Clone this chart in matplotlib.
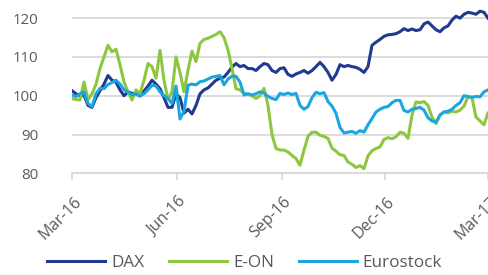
import matplotlib
matplotlib.use("Agg")
import matplotlib.pyplot as plt
import pandas as pd

dax = [101.3, 100.5, 99.9, 100.2, 97.5, 97.0, 99.5, 101.3, 103.0, 105.2,
       104.0, 103.5, 101.5, 100.0, 101.0, 100.6, 100.5, 99.9, 101.2, 102.5,
       104.0, 103.0, 101.8, 99.5, 97.0, 97.0, 100.5, 99.5, 95.5, 96.5,
       95.3, 97.5, 100.5, 101.5, 102.0, 103.0, 104.0, 104.5, 104.8, 106.0,
       107.4, 108.3, 107.5, 107.8, 107.0, 107.0, 106.5, 107.5, 108.3, 108.0,
       106.5, 106.0, 107.0, 107.2, 105.5, 105.0, 105.6, 106.0, 106.5, 105.8,
       106.5, 107.5, 108.6, 107.5, 106.0, 104.0, 105.5, 108.0, 107.5, 107.8,
       107.5, 107.3, 106.8, 106.0, 107.5, 113.0, 113.8, 114.5, 115.3, 115.7,
       115.8, 116.0, 116.5, 117.3, 116.8, 117.2, 116.8, 117.0, 118.5, 119.0,
       118.0, 117.0, 116.5, 117.5, 118.0, 119.5, 120.5, 120.0, 121.0, 121.5,
       121.3, 121.0, 121.8, 121.5, 120.0]

eon = [99.3, 99.0, 98.9, 103.5, 99.0, 100.5, 103.0, 107.0, 110.0, 113.0,
       111.3, 112.0, 108.0, 103.5, 101.0, 98.9, 101.5, 100.5, 104.0, 108.3,
       107.5, 104.5, 111.7, 104.0, 99.0, 101.0, 110.0, 106.0, 101.0, 106.5,
       111.5, 108.8, 113.5, 114.5, 114.8, 115.3, 115.8, 116.5, 115.0, 111.8,
       107.0, 101.8, 101.5, 100.6, 100.4, 100.0, 99.3, 100.0, 101.9, 97.5,
       90.0, 86.4, 86.0, 86.0, 85.5, 84.6, 83.8, 82.1, 86.0, 89.5,
       90.6, 90.6, 89.8, 89.5, 89.0, 86.5, 85.7, 84.8, 84.6, 82.9,
       82.3, 81.5, 82.0, 81.2, 84.5, 85.8, 86.4, 86.8, 88.7, 89.2,
       88.9, 89.4, 90.6, 90.3, 89.0, 95.0, 98.4, 98.2, 98.5, 97.5,
       94.5, 92.8, 95.0, 95.8, 95.6, 96.0, 95.8, 96.3, 97.3, 99.7,
       99.5, 94.5, 93.5, 92.5, 95.5]

eurostock = [100.2, 99.8, 100.5, 101.0, 98.0, 97.2, 100.5, 101.9, 101.8, 102.9,
             103.4, 104.0, 103.0, 101.5, 101.0, 100.2, 100.5, 100.0, 100.5, 101.5,
             102.7, 102.5, 101.0, 100.0, 99.3, 98.0, 102.5, 94.0, 96.0, 102.7,
             103.0, 102.8, 103.6, 103.8, 104.3, 104.8, 105.0, 105.2, 102.8, 104.3,
             105.0, 105.0, 103.5, 100.2, 100.5, 100.2, 100.5, 101.0, 100.7, 99.8,
             99.3, 99.0, 100.6, 100.3, 100.7, 100.3, 100.6, 97.5, 96.5, 97.2,
             99.5, 100.9, 100.5, 100.8, 98.5, 97.3, 95.5, 91.8, 90.4, 90.6,
             90.8, 90.3, 91.0, 90.6, 92.5, 94.1, 95.8, 96.5, 97.0, 97.2,
             98.2, 98.8, 98.8, 96.2, 95.8, 96.5, 96.7, 97.0, 96.3, 94.3,
             93.5, 93.2, 95.0, 95.8, 96.0, 96.5, 97.5, 98.2, 100.0, 99.8,
             99.6, 99.8, 99.7, 101.0, 101.5]

series_names = ["DAX", "E-ON", "Eurostock"]
colors = ["#1F3A8F", "#8DC63F", "#1BA6E0"]
tick_labels = ["Mar-16", "Jun-16", "Sep-16", "Dec-16", "Mar-17"]
tick_dates = ["2016-03-01", "2016-06-01", "2016-09-01", "2016-12-01", "2017-03-01"]
y_ticks = [80, 90, 100, 110, 120]

dates = pd.date_range("2016-03-01", "2017-03-01", periods=len(dax))

plt.rcParams['font.family'] = ['Open Sans', 'DejaVu Sans']

fig = plt.figure(figsize=(4.89, 2.75), dpi=100)
ax = fig.add_axes([72/489, 1 - 173.3/275, 416/489, (173.3 - 6.5)/275])

for vals, name, c in zip([dax, eon, eurostock], series_names, colors):
    ax.plot(dates, vals, color=c, lw=2.2, label=name, solid_joinstyle='round')

ax.set_ylim(80, 123)
ax.set_xlim(pd.Timestamp("2016-03-01"), pd.Timestamp("2017-03-01"))
ax.set_yticks(y_ticks)
ax.set_yticklabels([str(v) for v in y_ticks])
tick_ts = pd.to_datetime(tick_dates)
ax.set_xticks(tick_ts)
ax.set_xticklabels([])
for t, lbl in zip(tick_ts, tick_labels):
    ax.annotate(lbl, xy=(t, 0), xycoords=('data', 'axes fraction'),
                xytext=(7, -26), textcoords='offset pixels',
                rotation=45, ha='right', va='center', rotation_mode='anchor',
                fontsize=11.5, color='#595959', annotation_clip=False)

ax.grid(axis='y', color='#D9D9D9', lw=1.3)
ax.set_axisbelow(True)
for s in ['top', 'right', 'left']:
    ax.spines[s].set_visible(False)
ax.spines['bottom'].set_color('#D9D9D9')
ax.spines['bottom'].set_linewidth(1.3)
ax.tick_params(axis='y', length=0, pad=24, labelsize=10.8, labelcolor='#595959')
ax.tick_params(axis='x', length=5, width=1.3, color='#D9D9D9')

leg = fig.legend(loc='center', bbox_to_anchor=(0.5, 1 - 263/275), ncol=3,
                 frameon=False, fontsize=12.3, handlelength=3.4,
                 handletextpad=0.35, columnspacing=1.45)
for t in leg.get_texts():
    t.set_color('#595959')

fig.savefig("out.png", dpi=100)
